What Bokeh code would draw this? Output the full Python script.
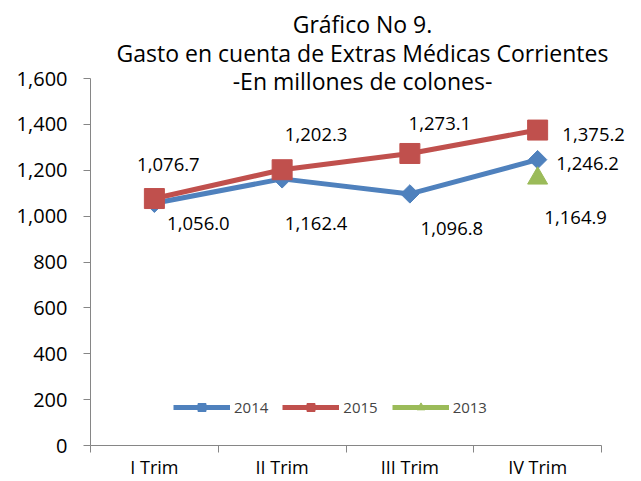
import numpy as np
from bokeh.plotting import figure
from bokeh.models import (Range1d, FixedTicker, Label, Legend, LegendItem,
                          ColumnDataSource, NumeralTickFormatter)
from bokeh.core.properties import value
from bokeh.embed import file_html
from bokeh.resources import INLINE

# ---- data ----
categories = ["I Trim", "II Trim", "III Trim", "IV Trim"]
s2014 = [1056.0, 1162.4, 1096.8, 1246.2]
s2015 = [1076.7, 1202.3, 1273.1, 1375.2]
s2013_cat = ["IV Trim"]
s2013 = [1164.9]
y_ticks = [0, 200, 400, 600, 800, 1000, 1200, 1400, 1600]
title_lines = ["Gráfico No 9.", "Gasto en cuenta de Extras Médicas Corrientes",
               "-En millones de colones-"]

# label offsets (screen px) per point
off2015 = [(14, -34), (34, -35), (30, -30), (56, 4)]
off2014 = [(44, 20), (34, 45), (42, 35), (50, 4)]
off2013 = [(38, 39)]

FONT = "Open Sans"
BLUE, RED, GREEN = "#4F81BD", "#C0504D", "#9BBB59"
AXIS_C = "#868686"

# layout: frame spans from plot-area left edge to right of canvas, top of canvas
# so that labels / titles are not clipped; axes are bounded to the data area.
PX_PER_CAT = 127.75
PX_PER_UNIT = 367 / 1600
FRAME_W, FRAME_H = 543, 440
Y_MAX = 1600

def xpos(cats):
    return [categories.index(c) + 0.5 for c in cats]

p = figure(frame_width=FRAME_W, frame_height=FRAME_H, output_backend="svg",
           toolbar_location=None,
           x_range=Range1d(0, FRAME_W / PX_PER_CAT),
           y_range=Range1d(0, FRAME_H / PX_PER_UNIT),
           min_border_left=90, min_border_right=0, min_border_top=5,
           min_border_bottom=0)
p.outline_line_color = None
p.grid.visible = False
p.background_fill_color = "white"
p.border_fill_color = "white"

# axes
xa = p.xaxis[0]
xa.bounds = (0, len(categories))
xa.ticker = FixedTicker(ticks=xpos(categories),
                        minor_ticks=list(range(len(categories) + 1)))
xa.major_label_overrides = {x: c for x, c in zip(xpos(categories), categories)}
xa.major_tick_out = 0
xa.major_tick_in = 0
xa.minor_tick_out = 7
xa.minor_tick_in = 0
xa.minor_tick_line_color = AXIS_C
xa.axis_line_color = AXIS_C
xa.major_label_text_font = FONT
xa.major_label_text_font_size = "18px"
xa.major_label_text_color = "black"
xa.major_label_standoff = 2

ya = p.yaxis[0]
ya.bounds = (0, Y_MAX)
ya.ticker = FixedTicker(ticks=y_ticks)
ya.formatter = NumeralTickFormatter(format="0,0")
ya.major_tick_out = 7
ya.major_tick_in = 0
ya.minor_tick_out = 0
ya.minor_tick_in = 0
ya.major_tick_line_color = AXIS_C
ya.axis_line_color = AXIS_C
ya.major_label_text_font = FONT
ya.major_label_text_font_size = "20px"
ya.major_label_text_color = "black"
ya.major_label_standoff = 16

# series
x14 = xpos(categories)
l14 = p.line(x14, s2014, line_color=BLUE, line_width=5)
m14 = p.scatter(x14, s2014, marker="square", angle=np.pi / 4, size=13,
                fill_color=BLUE, line_color=BLUE)
l15 = p.line(x14, s2015, line_color=RED, line_width=5)
m15 = p.scatter(x14, s2015, marker="square", size=20, fill_color=RED, line_color=RED)
x13 = xpos(s2013_cat)
l13 = p.line(x13, s2013, line_color=GREEN, line_width=5)
m13 = p.scatter(x13, s2013, marker="triangle", size=20, fill_color=GREEN, line_color=GREEN)

def labels(xs, ys, offs):
    src = ColumnDataSource(dict(x=xs, y=ys, t=[f"{v:,.1f}" for v in ys],
                                dx=[o[0] for o in offs], dy=[o[1] for o in offs]))
    p.text("x", "y", text="t", source=src, x_offset="dx", y_offset="dy",
           text_align="center", text_baseline="middle",
           text_font=value(FONT), text_font_size="18.5px", text_color="black")

labels(x14, s2015, off2015)
labels(x14, s2014, off2014)
labels(x13, s2013, off2013)

# legend
legend = Legend(items=[LegendItem(label="2014", renderers=[l14, m14]),
                       LegendItem(label="2015", renderers=[l15, m15]),
                       LegendItem(label="2013", renderers=[l13, m13])],
                orientation="horizontal", location=(83, 28),
                background_fill_alpha=0, border_line_color=None,
                glyph_width=57, glyph_height=20, label_standoff=4, spacing=14,
                padding=0, margin=0,
                label_text_font=FONT, label_text_font_size="15px")
p.add_layout(legend)

# title lines
for txt, yy in zip(title_lines, [422, 393, 365]):
    p.add_layout(Label(x=272, y=yy, x_units="screen", y_units="screen", text=txt,
                       text_align="center", text_baseline="middle",
                       text_font=FONT, text_font_size="23px", text_color="black"))

open("out.html", "w").write(file_html(p, INLINE))
